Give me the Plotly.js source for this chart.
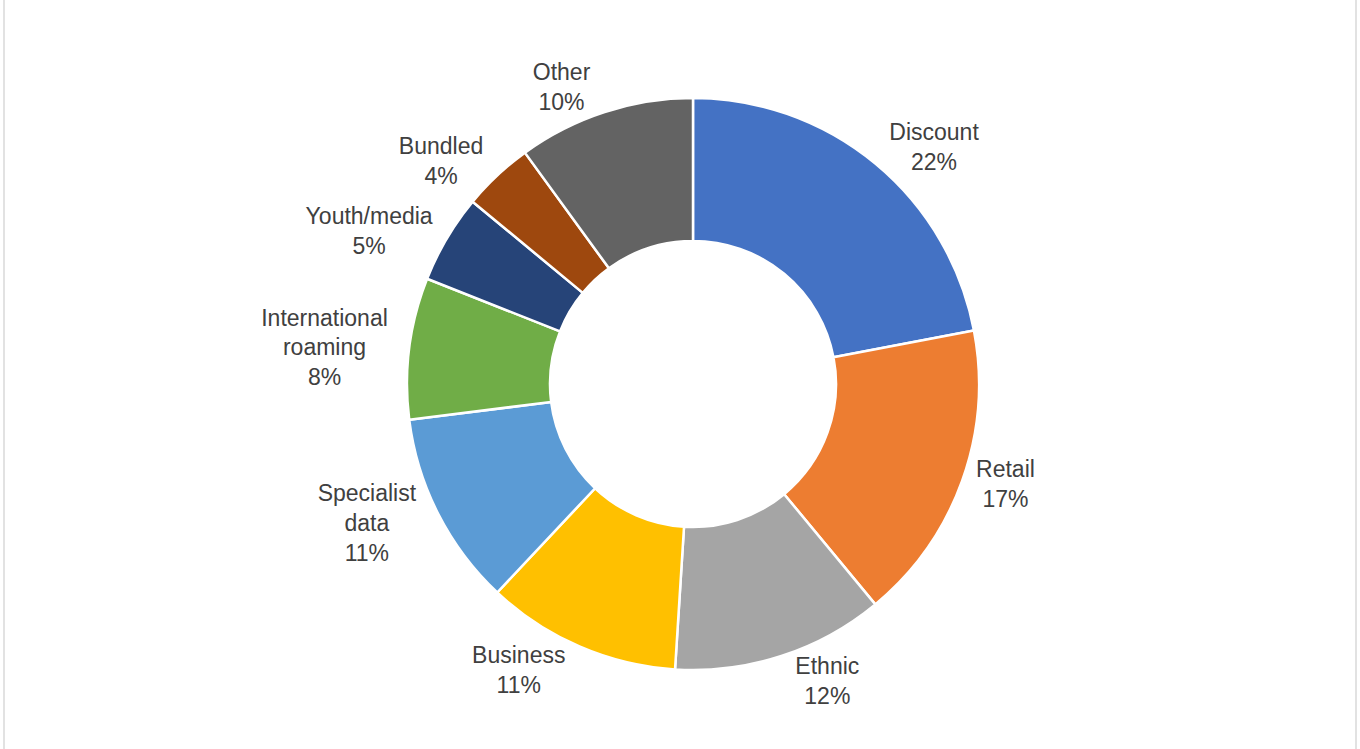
<!DOCTYPE html>
<html><head><meta charset="utf-8">
<script src="https://cdn.plot.ly/plotly-3.0.1.min.js"></script>
<style>
html,body{margin:0;padding:0;background:#fff;}
#frame{position:absolute;left:3px;top:0;width:1354px;height:749px;border-left:2px solid #e2e2e2;border-right:2px solid #e2e2e2;box-sizing:border-box;}
#chart{position:absolute;left:0;top:0;width:1360px;height:749px;}
</style></head>
<body>
<div id="chart"></div>
<div id="frame"></div>
<script>
const categories = ["Discount","Retail","Ethnic","Business","Specialist data","International roaming","Youth/media","Bundled","Other"];
const displayLabels = ["Discount","Retail","Ethnic","Business","Specialist<br>data","International<br>roaming","Youth/media","Bundled","Other"];
const shares = [22,17,12,11,11,8,5,4,10];
const colors = ["#4472C4","#ED7D31","#A5A5A5","#FFC000","#5B9BD5","#70AD47","#264478","#9E480E","#636363"];

Plotly.newPlot('chart',[{
  type:'pie',
  labels:categories,
  values:shares,
  customdata:displayLabels,
  sort:false,
  direction:'clockwise',
  rotation:0,
  hole:0.5,
  marker:{colors:colors,line:{color:'#ffffff',width:2.5}},
  textposition:'outside',
  texttemplate:'%{customdata}<br>%{value}%',
  textfont:{family:'Liberation Sans, Arial, sans-serif',size:23,color:'#404040'},
  automargin:false,
  showlegend:false,
  hoverinfo:'label+percent'
}],{
  width:1360,height:749,
  margin:{l:26,r:0,t:98,b:79},
  paper_bgcolor:'#ffffff',
  showlegend:false
},{displayModeBar:false,staticPlot:true});
</script>
</body></html>
